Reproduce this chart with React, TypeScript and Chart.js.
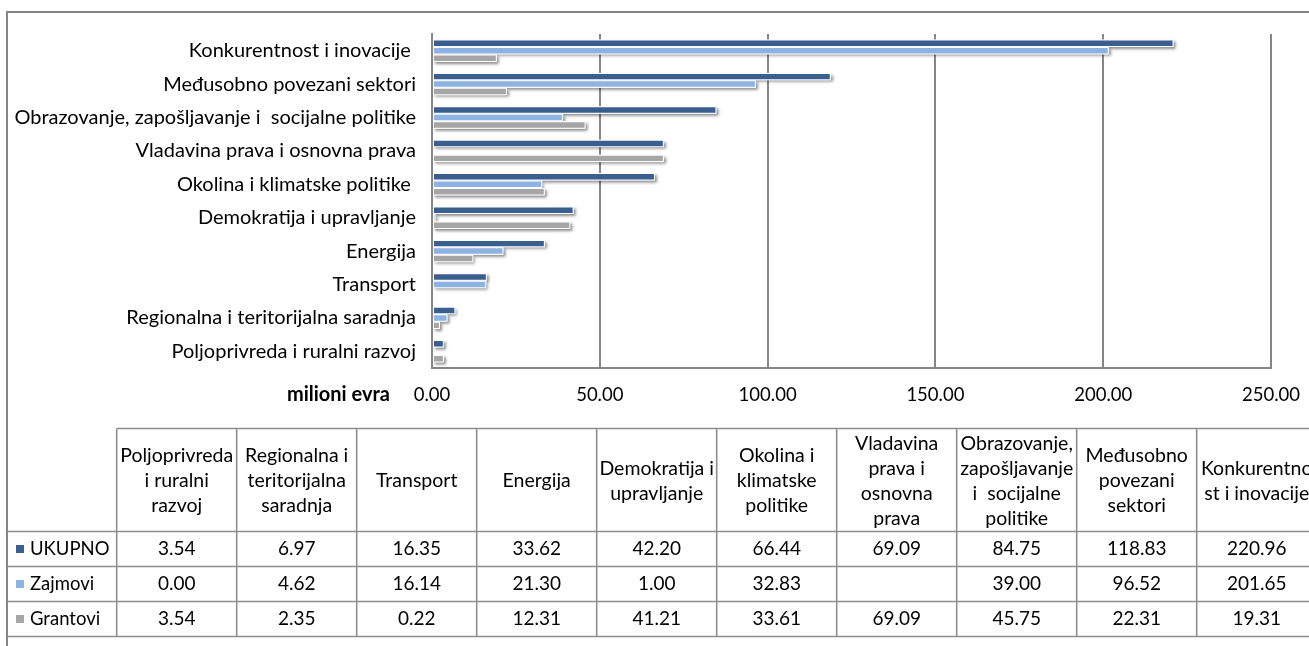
import React, { useEffect, useRef } from "react";
import { Chart, registerables } from "chart.js";

Chart.register(...registerables);

// ---- data ----
const categories = [
  "Poljoprivreda i ruralni razvoj",
  "Regionalna i teritorijalna saradnja",
  "Transport",
  "Energija",
  "Demokratija i upravljanje",
  "Okolina i klimatske politike ",
  "Vladavina prava i osnovna prava",
  "Obrazovanje, zapošljavanje i  socijalne politike",
  "Međusobno povezani sektori",
  "Konkurentnost i inovacije ",
];
const tableHeaderLines = [
  ["Poljoprivreda", "i ruralni", "razvoj"],
  ["Regionalna i", "teritorijalna", "saradnja"],
  ["Transport"],
  ["Energija"],
  ["Demokratija i", "upravljanje"],
  ["Okolina i", "klimatske", "politike"],
  ["Vladavina", "prava i", "osnovna", "prava"],
  ["Obrazovanje,", "zapošljavanje", "i  socijalne", "politike"],
  ["Međusobno", "povezani", "sektori"],
  ["Konkurentno", "st i inovacije"],
];
const ukupno: (number | null)[] = [3.54, 6.97, 16.35, 33.62, 42.2, 66.44, 69.09, 84.75, 118.83, 220.96];
const zajmovi: (number | null)[] = [0.0, 4.62, 16.14, 21.3, 1.0, 32.83, null, 39.0, 96.52, 201.65];
const grantovi: (number | null)[] = [3.54, 2.35, 0.22, 12.31, 41.21, 33.61, 69.09, 45.75, 22.31, 19.31];
const seriesNames = ["UKUPNO", "Zajmovi", "Grantovi"];
const seriesColors = ["#3A5F8F", "#8DB3E2", "#A6A6A6"];
const xTicks = [0, 50, 100, 150, 200, 250];
const axisTitle = "milioni evra";

const FONT = "Lato";
const W = 1309;
const H = 646;

const shadowPlugin = {
  id: "barShadow",
  beforeDatasetsDraw(chart: any) {
    const ctx = chart.ctx;
    ctx.save();
    ctx.shadowColor = "rgba(0,0,0,0.45)";
    ctx.shadowBlur = 3;
    ctx.shadowOffsetX = 2;
    ctx.shadowOffsetY = 2;
    ctx.fillStyle = "#ffffff";
    chart.data.datasets.forEach((_: any, di: number) => {
      const meta = chart.getDatasetMeta(di);
      meta.data.forEach((el: any) => {
        const p = el.getProps(["x", "y", "base", "height"], true);
        if (p.x == null || isNaN(p.x)) return;
        const left = Math.min(p.x, p.base);
        const w = Math.abs(p.x - p.base);
        if (w < 0.5) return;
        ctx.fillRect(left, p.y - p.height / 2, w, p.height);
      });
    });
    ctx.restore();
  },
};

const tablePlugin = {
  id: "dataTable",
  afterDraw(chart: any) {
    const ctx = chart.ctx;
    const area = chart.chartArea;
    ctx.save();
    // outer frame
    ctx.strokeStyle = "#868686";
    ctx.lineWidth = 2;
    ctx.beginPath();
    ctx.moveTo(7, H);
    ctx.lineTo(7, 12);
    ctx.lineTo(W, 12);
    ctx.stroke();

    // axis title
    ctx.fillStyle = "#000";
    ctx.font = `bold 20px ${FONT}`;
    ctx.textAlign = "right";
    ctx.textBaseline = "middle";
    ctx.fillText(axisTitle, 390, area.bottom + 27);

    // table
    const colX0 = 116.7;
    const colW = 120;
    const top = 428.5;
    const headBottom = 531.5;
    const rowH = 35;
    const rows = [ukupno, zajmovi, grantovi];
    const bottom = headBottom + rowH * rows.length;
    ctx.strokeStyle = "#8E8E8E";
    ctx.lineWidth = 1.6;
    ctx.beginPath();
    ctx.moveTo(colX0, top);
    ctx.lineTo(W, top);
    for (let r = 0; r <= rows.length; r++) {
      const y = headBottom + r * rowH;
      ctx.moveTo(7, y);
      ctx.lineTo(W, y);
    }
    for (let c = 0; c <= categories.length; c++) {
      const x = colX0 + c * colW;
      ctx.moveTo(x, top);
      ctx.lineTo(x, bottom);
    }
    ctx.stroke();

    ctx.font = `19.5px ${FONT}`;
    ctx.fillStyle = "#000";
    ctx.textAlign = "center";
    ctx.textBaseline = "middle";
    const lh = 25;
    const headMid = 481;
    tableHeaderLines.forEach((lines, c) => {
      const cx = colX0 + (c + 0.5) * colW;
      const y0 = headMid - ((lines.length - 1) * lh) / 2;
      lines.forEach((t, i) => ctx.fillText(t, cx, y0 + i * lh));
    });
    rows.forEach((vals, r) => {
      const cy = headBottom + (r + 0.5) * rowH;
      ctx.font = `19px ${FONT}`;
      vals.forEach((v, c) => {
        if (v == null) return;
        ctx.fillText(v.toFixed(2), colX0 + (c + 0.5) * colW, cy);
      });
      ctx.fillStyle = seriesColors[r];
      ctx.fillRect(16, cy - 4, 8, 8);
      ctx.fillStyle = "#000";
      ctx.textAlign = "left";
      ctx.font = `18.5px ${FONT}`;
      ctx.fillText(seriesNames[r], 30, cy);
      ctx.textAlign = "center";
    });
    ctx.restore();
  },
};

export default function App() {
  const ref = useRef<HTMLCanvasElement>(null);
  useEffect(() => {
    if (!ref.current) return;
    const chart = new Chart(ref.current, {
      type: "bar",
      data: {
        labels: categories,
        datasets: [ukupno, zajmovi, grantovi].map((d, i) => ({
          label: seriesNames[i],
          data: d,
          backgroundColor: seriesColors[i],
          borderColor: "#ffffff",
          borderWidth: 1,
          borderSkipped: false,
          categoryPercentage: 0.67,
          barPercentage: 1,
        })),
      },
      options: {
        indexAxis: "y",
        responsive: false,
        animation: false,
        events: [],
        layout: { padding: { left: 0, top: 34, right: 38, bottom: 0 } },
        plugins: { legend: { display: false }, tooltip: { enabled: false } },
        scales: {
          x: {
            min: 0,
            max: 250,
            afterBuildTicks: (s: any) => {
              s.ticks = xTicks.map((v) => ({ value: v }));
            },
            afterFit: (s: any) => {
              s.height = 278;
              s.paddingLeft = 0;
              s.paddingRight = 0;
            },
            grid: { color: "#868686", lineWidth: 2, drawTicks: false },
            border: { display: true, color: "#868686", width: 2 },
            ticks: {
              padding: 16,
              color: "#000",
              font: { family: FONT, size: 18.5 },
              maxRotation: 0,
              autoSkip: false,
              callback: (v: any) => Number(v).toFixed(2),
            },
          },
          y: {
            reverse: true,
            afterFit: (s: any) => {
              s.width = 432;
              s.paddingTop = 0;
              s.paddingBottom = 0;
            },
            grid: { display: false, drawTicks: false },
            border: { display: true, color: "#868686", width: 2, z: 1 },
            ticks: { padding: 16, color: "#000", font: { family: FONT, size: 20 }, autoSkip: false },
          },
        },
      },
      plugins: [shadowPlugin, tablePlugin],
    });
    return () => chart.destroy();
  }, []);
  return (
    <div style={{ position: "fixed", left: 0, top: 0, width: W, height: H, background: "#fff" }}>
      <canvas ref={ref} width={W} height={H} style={{ display: "block" }} />
    </div>
  );
}
